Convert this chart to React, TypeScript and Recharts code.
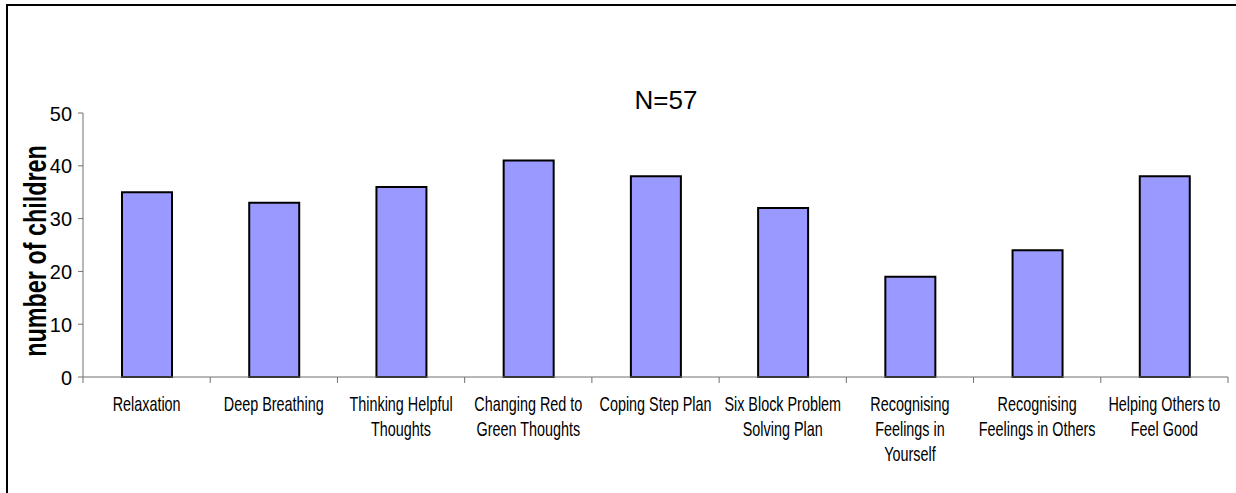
import { BarChart, Bar, XAxis, YAxis } from 'recharts';

const categories = [
  'Relaxation',
  'Deep Breathing',
  'Thinking Helpful Thoughts',
  'Changing Red to Green Thoughts',
  'Coping Step Plan',
  'Six Block Problem Solving Plan',
  'Recognising Feelings in Yourself',
  'Recognising Feelings in Others',
  'Helping Others to Feel Good',
];
const tickLines = [
  ['Relaxation'],
  ['Deep Breathing'],
  ['Thinking Helpful', 'Thoughts'],
  ['Changing Red to', 'Green Thoughts'],
  ['Coping Step Plan'],
  ['Six Block Problem', 'Solving Plan'],
  ['Recognising', 'Feelings in', 'Yourself'],
  ['Recognising', 'Feelings in Others'],
  ['Helping Others to', 'Feel Good'],
];
const counts = [35, 33, 36, 41, 38, 32, 19, 24, 38];
const yTicks = [0, 10, 20, 30, 40, 50];
const title = 'N=57';
const yTitle = 'number of children';

const data = categories.map((name, i) => ({ name, count: counts[i] }));

const W = 1236, H = 493;
const X_AXIS_H = 116;
const M = { top: 113, right: 8, bottom: 0, left: 0 };
const AXIS_W = 83;
const PLOT_BOTTOM = H - X_AXIS_H;
const BAND = (W - M.right - AXIS_W) / categories.length;
const FONT = 'Arial, "Liberation Sans", sans-serif';
const AXIS = '#707070';

function XTick(props: any) {
  const { x, payload } = props;
  const i = categories.indexOf(payload.value);
  const lines = tickLines[i] || [payload.value];
  return (
    <g>
      {i === 0 && <line x1={x - BAND / 2} y1={PLOT_BOTTOM} x2={x - BAND / 2} y2={PLOT_BOTTOM + 6} stroke={AXIS} />}
      <line x1={x + BAND / 2} y1={PLOT_BOTTOM} x2={x + BAND / 2} y2={PLOT_BOTTOM + 6} stroke={AXIS} />
      <text transform={`translate(${x},${PLOT_BOTTOM + 34}) scale(0.72,1)`} textAnchor="middle"
        fontFamily={FONT} fontSize={20} fill="#000">
        {lines.map((l, k) => <tspan key={k} x={0} y={k * 25}>{l}</tspan>)}
      </text>
    </g>
  );
}

function YTick(props: any) {
  const { y, payload } = props;
  return (
    <text transform={`translate(${AXIS_W - 11},${y + 7.5}) scale(0.95,1)`} textAnchor="end"
      fontFamily={FONT} fontSize={21} fill="#000">{payload.value}</text>
  );
}

export default function App() {
  return (
    <div style={{ position: 'relative', width: W, height: H, overflow: 'hidden', background: '#fff' }}>
      <style>{'body{margin:0}'}</style>
      <div style={{ position: 'absolute', left: 6, top: 4, width: 1300, height: 600, border: '2px solid #000' }} />
      <div style={{ position: 'absolute', left: 0, top: 0 }}>
        <BarChart width={W} height={H} data={data} margin={M}>
          <XAxis dataKey="name" interval={0} tickLine={false} axisLine={{ stroke: AXIS }} tick={<XTick />} height={X_AXIS_H} />
          <YAxis domain={[0, 50]} ticks={yTicks} width={AXIS_W} tickSize={5} tickLine={{ stroke: AXIS }}
            axisLine={{ stroke: AXIS }} tick={<YTick />} interval={0} />
          <Bar dataKey="count" fill="#9999FF" stroke="#000" strokeWidth={2} barSize={50} isAnimationActive={false} />
        </BarChart>
      </div>
      <svg width={W} height={H} style={{ position: 'absolute', left: 0, top: 0, pointerEvents: 'none' }}>
        <text x={666} y={109} textAnchor="middle" fontFamily={FONT} fontSize={26} fill="#000">{title}</text>
        <text transform="translate(46,251) rotate(-90) scale(0.73,1)" textAnchor="middle" fontFamily={FONT}
          fontSize={32} fontWeight="bold" fill="#000">{yTitle}</text>
      </svg>
    </div>
  );
}
